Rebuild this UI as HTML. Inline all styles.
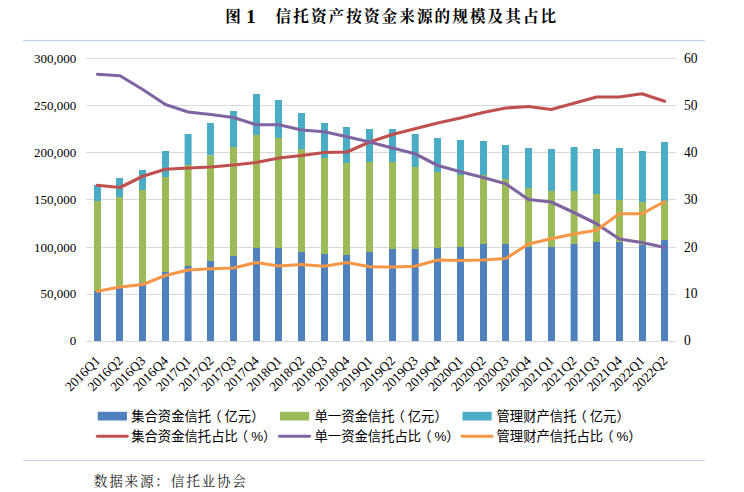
<!DOCTYPE html>
<html lang="zh"><head><meta charset="utf-8"><title>图1 信托资产按资金来源的规模及其占比</title>
<style>html,body{margin:0;padding:0;background:#fff;}body{width:744px;height:492px;overflow:hidden;}svg{display:block;}</style>
</head><body>
<svg width="744" height="492" viewBox="0 0 744 492">
<rect width="744" height="492" fill="#fff"/>
<rect x="23" y="39.9" width="682" height="1.1" fill="#C2D3EB"/>
<rect x="23" y="459.9" width="682" height="1.1" fill="#C2D3EB"/>
<rect x="86.0" y="58.00" width="590.0" height="1" fill="#D9D9D9"/>
<rect x="86.0" y="105.00" width="590.0" height="1" fill="#D9D9D9"/>
<rect x="86.0" y="152.00" width="590.0" height="1" fill="#D9D9D9"/>
<rect x="86.0" y="199.00" width="590.0" height="1" fill="#D9D9D9"/>
<rect x="86.0" y="247.00" width="590.0" height="1" fill="#D9D9D9"/>
<rect x="86.0" y="294.00" width="590.0" height="1" fill="#D9D9D9"/>
<rect x="86.0" y="341.00" width="590.0" height="1" fill="#D9D9D9"/>
<rect x="94.00" y="185.00" width="7" height="16.00" fill="#4BACC6"/>
<rect x="94.00" y="201.00" width="7" height="90.00" fill="#9BBB59"/>
<rect x="94.00" y="291.00" width="7" height="50.00" fill="#4F81BD"/>
<rect x="116.00" y="178.00" width="7" height="19.00" fill="#4BACC6"/>
<rect x="116.00" y="197.00" width="7" height="90.00" fill="#9BBB59"/>
<rect x="116.00" y="287.00" width="7" height="54.00" fill="#4F81BD"/>
<rect x="139.00" y="170.00" width="7" height="20.00" fill="#4BACC6"/>
<rect x="139.00" y="190.00" width="7" height="92.50" fill="#9BBB59"/>
<rect x="139.00" y="282.50" width="7" height="58.50" fill="#4F81BD"/>
<rect x="162.00" y="151.00" width="7" height="26.00" fill="#4BACC6"/>
<rect x="162.00" y="177.00" width="7" height="95.00" fill="#9BBB59"/>
<rect x="162.00" y="272.00" width="7" height="69.00" fill="#4F81BD"/>
<rect x="184.60" y="134.00" width="7" height="31.00" fill="#4BACC6"/>
<rect x="184.60" y="165.00" width="7" height="101.00" fill="#9BBB59"/>
<rect x="184.60" y="266.00" width="7" height="75.00" fill="#4F81BD"/>
<rect x="207.00" y="123.00" width="7" height="32.50" fill="#4BACC6"/>
<rect x="207.00" y="155.50" width="7" height="105.50" fill="#9BBB59"/>
<rect x="207.00" y="261.00" width="7" height="80.00" fill="#4F81BD"/>
<rect x="230.00" y="111.00" width="7" height="36.00" fill="#4BACC6"/>
<rect x="230.00" y="147.00" width="7" height="109.00" fill="#9BBB59"/>
<rect x="230.00" y="256.00" width="7" height="85.00" fill="#4F81BD"/>
<rect x="253.00" y="94.00" width="7" height="41.00" fill="#4BACC6"/>
<rect x="253.00" y="135.00" width="7" height="113.00" fill="#9BBB59"/>
<rect x="253.00" y="248.00" width="7" height="93.00" fill="#4F81BD"/>
<rect x="275.00" y="100.00" width="7" height="38.00" fill="#4BACC6"/>
<rect x="275.00" y="138.00" width="7" height="110.00" fill="#9BBB59"/>
<rect x="275.00" y="248.00" width="7" height="93.00" fill="#4F81BD"/>
<rect x="298.00" y="113.00" width="7" height="36.00" fill="#4BACC6"/>
<rect x="298.00" y="149.00" width="7" height="103.00" fill="#9BBB59"/>
<rect x="298.00" y="252.00" width="7" height="89.00" fill="#4F81BD"/>
<rect x="321.00" y="123.00" width="7" height="35.00" fill="#4BACC6"/>
<rect x="321.00" y="158.00" width="7" height="96.00" fill="#9BBB59"/>
<rect x="321.00" y="254.00" width="7" height="87.00" fill="#4F81BD"/>
<rect x="343.00" y="127.00" width="7" height="36.00" fill="#4BACC6"/>
<rect x="343.00" y="163.00" width="7" height="92.00" fill="#9BBB59"/>
<rect x="343.00" y="255.00" width="7" height="86.00" fill="#4F81BD"/>
<rect x="366.00" y="129.00" width="7" height="33.00" fill="#4BACC6"/>
<rect x="366.00" y="162.00" width="7" height="90.00" fill="#9BBB59"/>
<rect x="366.00" y="252.00" width="7" height="89.00" fill="#4F81BD"/>
<rect x="389.00" y="129.00" width="7" height="33.00" fill="#4BACC6"/>
<rect x="389.00" y="162.00" width="7" height="87.00" fill="#9BBB59"/>
<rect x="389.00" y="249.00" width="7" height="92.00" fill="#4F81BD"/>
<rect x="411.70" y="134.00" width="7" height="33.00" fill="#4BACC6"/>
<rect x="411.70" y="167.00" width="7" height="82.00" fill="#9BBB59"/>
<rect x="411.70" y="249.00" width="7" height="92.00" fill="#4F81BD"/>
<rect x="434.00" y="138.00" width="7" height="34.00" fill="#4BACC6"/>
<rect x="434.00" y="172.00" width="7" height="76.00" fill="#9BBB59"/>
<rect x="434.00" y="248.00" width="7" height="93.00" fill="#4F81BD"/>
<rect x="457.00" y="140.00" width="7" height="35.00" fill="#4BACC6"/>
<rect x="457.00" y="175.00" width="7" height="72.00" fill="#9BBB59"/>
<rect x="457.00" y="247.00" width="7" height="94.00" fill="#4F81BD"/>
<rect x="480.00" y="141.00" width="7" height="34.00" fill="#4BACC6"/>
<rect x="480.00" y="175.00" width="7" height="69.00" fill="#9BBB59"/>
<rect x="480.00" y="244.00" width="7" height="97.00" fill="#4F81BD"/>
<rect x="502.00" y="145.00" width="7" height="34.00" fill="#4BACC6"/>
<rect x="502.00" y="179.00" width="7" height="65.00" fill="#9BBB59"/>
<rect x="502.00" y="244.00" width="7" height="97.00" fill="#4F81BD"/>
<rect x="525.00" y="148.00" width="7" height="40.00" fill="#4BACC6"/>
<rect x="525.00" y="188.00" width="7" height="59.00" fill="#9BBB59"/>
<rect x="525.00" y="247.00" width="7" height="94.00" fill="#4F81BD"/>
<rect x="548.00" y="149.00" width="7" height="42.00" fill="#4BACC6"/>
<rect x="548.00" y="191.00" width="7" height="56.00" fill="#9BBB59"/>
<rect x="548.00" y="247.00" width="7" height="94.00" fill="#4F81BD"/>
<rect x="570.60" y="147.00" width="7" height="44.00" fill="#4BACC6"/>
<rect x="570.60" y="191.00" width="7" height="53.00" fill="#9BBB59"/>
<rect x="570.60" y="244.00" width="7" height="97.00" fill="#4F81BD"/>
<rect x="593.00" y="149.00" width="7" height="45.00" fill="#4BACC6"/>
<rect x="593.00" y="194.00" width="7" height="48.00" fill="#9BBB59"/>
<rect x="593.00" y="242.00" width="7" height="99.00" fill="#4F81BD"/>
<rect x="616.00" y="148.00" width="7" height="52.00" fill="#4BACC6"/>
<rect x="616.00" y="200.00" width="7" height="42.00" fill="#9BBB59"/>
<rect x="616.00" y="242.00" width="7" height="99.00" fill="#4F81BD"/>
<rect x="639.00" y="151.00" width="7" height="51.00" fill="#4BACC6"/>
<rect x="639.00" y="202.00" width="7" height="43.00" fill="#9BBB59"/>
<rect x="639.00" y="245.00" width="7" height="96.00" fill="#4F81BD"/>
<rect x="661.00" y="142.00" width="7" height="59.00" fill="#4BACC6"/>
<rect x="661.00" y="201.00" width="7" height="39.00" fill="#9BBB59"/>
<rect x="661.00" y="240.00" width="7" height="101.00" fill="#4F81BD"/>
<polyline points="97.35,185.25 120.04,187.50 142.73,176.25 165.42,169.25 188.12,168.00 210.81,167.00 233.50,165.00 256.19,162.50 278.88,158.00 301.58,155.50 324.27,152.50 346.96,152.00 369.65,142.00 392.35,134.50 415.04,128.75 437.73,123.00 460.42,118.00 483.12,112.50 505.81,108.00 528.50,106.50 551.19,109.50 573.88,103.25 596.58,97.00 619.27,97.00 641.96,93.75 664.65,101.25" fill="none" stroke="#C0504D" stroke-width="3.1" stroke-linecap="round" stroke-linejoin="round"/>
<polyline points="97.35,74.25 120.04,75.75 142.73,89.50 165.42,104.50 188.12,112.00 210.81,114.50 233.50,117.50 256.19,124.75 278.88,124.75 301.58,130.00 324.27,131.75 346.96,136.75 369.65,142.00 392.35,148.00 415.04,153.75 437.73,165.50 460.42,171.75 483.12,177.50 505.81,183.75 528.50,199.50 551.19,202.00 573.88,212.50 596.58,223.75 619.27,239.00 641.96,242.50 664.65,247.50" fill="none" stroke="#8064A2" stroke-width="3.1" stroke-linecap="round" stroke-linejoin="round"/>
<polyline points="97.35,291.25 120.04,287.00 142.73,284.50 165.42,275.50 188.12,270.00 210.81,268.75 233.50,268.00 256.19,262.50 278.88,266.00 301.58,264.50 324.27,266.25 346.96,262.50 369.65,266.75 392.35,267.00 415.04,266.25 437.73,260.00 460.42,260.50 483.12,260.00 505.81,258.50 528.50,244.00 551.19,238.75 573.88,234.00 596.58,230.25 619.27,213.75 641.96,213.75 664.65,201.50" fill="none" stroke="#F79646" stroke-width="3.1" stroke-linecap="round" stroke-linejoin="round"/>
<g font-family='"Liberation Serif", "Noto Serif CJK SC", serif' font-size="13" fill="#000">
<text transform="translate(76.2,63.20) scale(1.0,1.02)" text-anchor="end">300,000</text>
<text transform="translate(683.9,63.20) scale(1.04,1.04)">60</text>
<text transform="translate(76.2,110.03) scale(1.0,1.02)" text-anchor="end">250,000</text>
<text transform="translate(683.9,110.03) scale(1.04,1.04)">50</text>
<text transform="translate(76.2,156.86) scale(1.0,1.02)" text-anchor="end">200,000</text>
<text transform="translate(683.9,156.86) scale(1.04,1.04)">40</text>
<text transform="translate(76.2,203.69) scale(1.0,1.02)" text-anchor="end">150,000</text>
<text transform="translate(683.9,203.69) scale(1.04,1.04)">30</text>
<text transform="translate(76.2,251.52) scale(1.0,1.02)" text-anchor="end">100,000</text>
<text transform="translate(683.9,251.52) scale(1.04,1.04)">20</text>
<text transform="translate(76.2,298.35) scale(1.0,1.02)" text-anchor="end">50,000</text>
<text transform="translate(683.9,298.35) scale(1.04,1.04)">10</text>
<text transform="translate(76.2,345.18) scale(1.0,1.02)" text-anchor="end">0</text>
<text transform="translate(683.9,345.18) scale(1.04,1.04)">0</text>
<text transform="translate(100.95,361.6) rotate(-45)" text-anchor="end" font-size="13.4">2016Q1</text>
<text transform="translate(123.64,361.6) rotate(-45)" text-anchor="end" font-size="13.4">2016Q2</text>
<text transform="translate(146.33,361.6) rotate(-45)" text-anchor="end" font-size="13.4">2016Q3</text>
<text transform="translate(169.02,361.6) rotate(-45)" text-anchor="end" font-size="13.4">2016Q4</text>
<text transform="translate(191.72,361.6) rotate(-45)" text-anchor="end" font-size="13.4">2017Q1</text>
<text transform="translate(214.41,361.6) rotate(-45)" text-anchor="end" font-size="13.4">2017Q2</text>
<text transform="translate(237.10,361.6) rotate(-45)" text-anchor="end" font-size="13.4">2017Q3</text>
<text transform="translate(259.79,361.6) rotate(-45)" text-anchor="end" font-size="13.4">2017Q4</text>
<text transform="translate(282.48,361.6) rotate(-45)" text-anchor="end" font-size="13.4">2018Q1</text>
<text transform="translate(305.18,361.6) rotate(-45)" text-anchor="end" font-size="13.4">2018Q2</text>
<text transform="translate(327.87,361.6) rotate(-45)" text-anchor="end" font-size="13.4">2018Q3</text>
<text transform="translate(350.56,361.6) rotate(-45)" text-anchor="end" font-size="13.4">2018Q4</text>
<text transform="translate(373.25,361.6) rotate(-45)" text-anchor="end" font-size="13.4">2019Q1</text>
<text transform="translate(395.95,361.6) rotate(-45)" text-anchor="end" font-size="13.4">2019Q2</text>
<text transform="translate(418.64,361.6) rotate(-45)" text-anchor="end" font-size="13.4">2019Q3</text>
<text transform="translate(441.33,361.6) rotate(-45)" text-anchor="end" font-size="13.4">2019Q4</text>
<text transform="translate(464.02,361.6) rotate(-45)" text-anchor="end" font-size="13.4">2020Q1</text>
<text transform="translate(486.72,361.6) rotate(-45)" text-anchor="end" font-size="13.4">2020Q2</text>
<text transform="translate(509.41,361.6) rotate(-45)" text-anchor="end" font-size="13.4">2020Q3</text>
<text transform="translate(532.10,361.6) rotate(-45)" text-anchor="end" font-size="13.4">2020Q4</text>
<text transform="translate(554.79,361.6) rotate(-45)" text-anchor="end" font-size="13.4">2021Q1</text>
<text transform="translate(577.48,361.6) rotate(-45)" text-anchor="end" font-size="13.4">2021Q2</text>
<text transform="translate(600.18,361.6) rotate(-45)" text-anchor="end" font-size="13.4">2021Q3</text>
<text transform="translate(622.87,361.6) rotate(-45)" text-anchor="end" font-size="13.4">2021Q4</text>
<text transform="translate(645.56,361.6) rotate(-45)" text-anchor="end" font-size="13.4">2022Q1</text>
<text transform="translate(668.25,361.6) rotate(-45)" text-anchor="end" font-size="13.4">2022Q2</text>
</g>
<g font-family='"Liberation Sans", "Noto Sans CJK SC", sans-serif' font-size="13.33" fill="#000">
<rect x="97.75" y="411.8" width="29.2" height="8.7" fill="#4F81BD"/>
<line x1="97.25" y1="436.3" x2="127.25" y2="436.3" stroke="#C0504D" stroke-width="2.9" stroke-linecap="round"/>
<text x="131.2" y="421.2">集合资金信托<tspan dx="-3">（</tspan><tspan dx="3">亿元）</tspan></text>
<text x="131.2" y="441.2">集合资金信托占比<tspan dx="-3">（</tspan><tspan dx="3">%）</tspan></text>
<rect x="280" y="411.8" width="29.2" height="8.7" fill="#9BBB59"/>
<line x1="279.5" y1="436.3" x2="309.5" y2="436.3" stroke="#8064A2" stroke-width="2.9" stroke-linecap="round"/>
<text x="314.5" y="421.2">单一资金信托<tspan dx="-3">（</tspan><tspan dx="3">亿元）</tspan></text>
<text x="314.5" y="441.2">单一资金信托占比<tspan dx="-3">（</tspan><tspan dx="3">%）</tspan></text>
<rect x="462.5" y="411.8" width="29.2" height="8.7" fill="#4BACC6"/>
<line x1="462.0" y1="436.3" x2="492.0" y2="436.3" stroke="#F79646" stroke-width="2.9" stroke-linecap="round"/>
<text x="496.5" y="421.2">管理财产信托<tspan dx="-3">（</tspan><tspan dx="3">亿元）</tspan></text>
<text x="496.5" y="441.2">管理财产信托占比<tspan dx="-3">（</tspan><tspan dx="3">%）</tspan></text>
</g>
<g font-family='"Liberation Serif", "Noto Serif CJK SC", serif' font-weight="bold" font-size="15.6" fill="#000">
<text x="225.3" y="22.2">图</text><text x="245.9" y="23.4" font-size="19.5">1</text><text x="275.6" y="22.2" letter-spacing="2.07">信托资产按资金来源的规模及其占比</text>
</g>
<text x="93.8" y="486.1" font-family='"Liberation Serif", "Noto Serif CJK SC", serif' font-size="13.6" letter-spacing="1.8" fill="#222">数据来源：信托业协会</text>
</svg>
</body></html>
